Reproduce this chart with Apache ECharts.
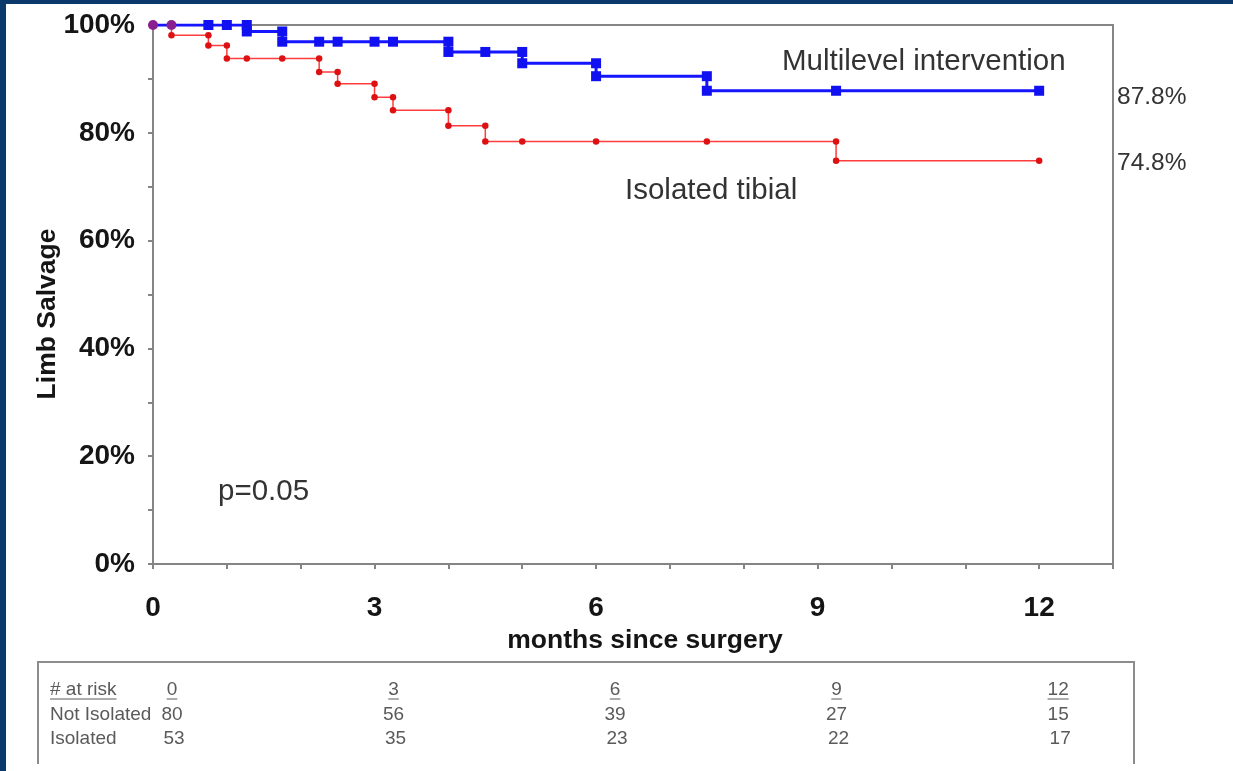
<!DOCTYPE html>
<html>
<head>
<meta charset="utf-8">
<script src="https://cdn.jsdelivr.net/npm/echarts@6/dist/echarts.min.js"></script>
<style>
html,body{margin:0;padding:0;background:#0c396c;width:1233px;height:771px;overflow:hidden;}
#white{position:absolute;left:6px;top:4px;width:1227px;height:767px;background:#ffffff;}
#chart{position:absolute;left:0;top:0;width:1233px;height:771px;}
</style>
</head>
<body>
<div id="white"></div>
<div id="chart"></div>
<script>
// ---- data ----
const multiTimes = [0, 0.25, 0.75, 1.0, 1.27, 1.75, 2.25, 2.5, 3.0, 3.25, 4.0, 4.5, 5.0, 6.0, 7.5, 9.25, 12];
const multiSurv  = [100, 100, 100, 100, 98.8, 96.9, 96.9, 96.9, 96.9, 96.9, 95.0, 95.0, 92.9, 90.5, 87.8, 87.8, 87.8];
const isoTimes   = [0, 0.25, 0.75, 1.0, 1.27, 1.75, 2.25, 2.5, 3.0, 3.25, 4.0, 4.5, 5.0, 6.0, 7.5, 9.25, 12];
const isoSurv    = [100, 98.1, 96.2, 93.8, 93.8, 93.8, 91.3, 89.1, 86.6, 84.2, 81.3, 78.4, 78.4, 78.4, 78.4, 74.8, 74.8];
const seriesNames = ['Multilevel intervention', 'Isolated tibial'];
const riskMonths = [0, 3, 6, 9, 12];
const notIsolatedRisk = [80, 56, 39, 27, 15];
const isolatedRisk = [53, 35, 23, 22, 17];
const riskRowLabels = ['# at risk', 'Not Isolated', 'Isolated'];
const pValueText = 'p=0.05';
const xTickLabels = [0, 3, 6, 9, 12];
const yTickLabels = [0, 20, 40, 60, 80, 100];

const FONT = '"Liberation Sans", Arial, sans-serif';

function buildSteps(times, vals) {
  const out = [];
  let prev = null;
  for (let i = 0; i < times.length; i++) {
    if (prev !== null && vals[i] !== prev) out.push([times[i], prev]);
    out.push([times[i], vals[i]]);
    prev = vals[i];
  }
  return out;
}
const isoSteps = buildSteps(isoTimes, isoSurv);
const multiSteps = buildSteps(multiTimes, multiSurv);
const isoKey = new Set(isoSteps.map(p => p[0] + '_' + p[1]));
const multiData = multiSteps.map(p => {
  if (isoKey.has(p[0] + '_' + p[1])) {
    return { value: p, symbol: 'circle', symbolSize: 10, itemStyle: { color: '#8a1f8e' } };
  }
  return { value: p };
});

const chart = echarts.init(document.getElementById('chart'), null, { renderer: 'canvas' });
const axisGrey = '#858585';
chart.setOption({
  animation: false,
  backgroundColor: 'transparent',
  grid: { left: 153, right: 120, top: 25, bottom: 207, show: true, borderColor: axisGrey, borderWidth: 2, backgroundColor: 'transparent' },
  xAxis: {
    type: 'value', min: 0, max: 13, interval: 1,
    axisLine: { lineStyle: { color: axisGrey, width: 2 } },
    axisTick: { length: 5, lineStyle: { color: axisGrey, width: 2 } },
    splitLine: { show: false },
    axisLabel: {
      formatter: v => (xTickLabels.indexOf(v) >= 0 ? String(v) : ''),
      fontFamily: FONT, fontWeight: 'bold', fontSize: 28, color: '#151515', margin: 30
    },
    name: 'months since surgery', nameLocation: 'middle', nameGap: 60,
    nameTextStyle: { fontFamily: FONT, fontWeight: 'bold', fontSize: 26.5, color: '#151515', padding: [0, 0, 0, 24] }
  },
  yAxis: {
    type: 'value', min: 0, max: 100, interval: 10,
    axisLine: { lineStyle: { color: axisGrey, width: 2 } },
    axisTick: { length: 5, lineStyle: { color: axisGrey, width: 2 } },
    splitLine: { show: false },
    axisLabel: {
      formatter: v => (yTickLabels.indexOf(v) >= 0 ? v + '%' : ''),
      fontFamily: FONT, fontWeight: 'bold', fontSize: 28, color: '#151515', margin: 18
    }
  },
  series: [
    {
      name: seriesNames[1], type: 'line', data: isoSteps, showAllSymbol: true,
      symbol: 'circle', symbolSize: 6.5,
      lineStyle: { color: '#ff3c3c', width: 1.5 },
      itemStyle: { color: '#dd1111' }, z: 2
    },
    {
      name: seriesNames[0], type: 'line', data: multiData, showAllSymbol: true,
      symbol: 'rect', symbolSize: 10,
      lineStyle: { color: '#1515ff', width: 3 },
      itemStyle: { color: '#1010f0' }, z: 3
    }
  ]
});

// ---- annotations & at-risk table ----
const ctx = document.createElement('canvas').getContext('2d');
function textW(t, size, weight) { ctx.font = (weight || 'normal') + ' ' + size + 'px ' + FONT; return ctx.measureText(t).width; }
const px = (x, y) => chart.convertToPixel({ gridIndex: 0 }, [x, y]);

const g = [];
const textColor = '#333333';
// series labels
g.push({ type: 'text', x: 782, y: 62, style: { text: seriesNames[0], font: 'normal 29.5px ' + FONT, fill: textColor, align: 'left', verticalAlign: 'middle' } });
g.push({ type: 'text', x: 625, y: 191, style: { text: seriesNames[1], font: 'normal 29.5px ' + FONT, fill: textColor, align: 'left', verticalAlign: 'middle' } });
// final percentages
const endM = px(13, multiSurv[multiSurv.length - 1]);
const endI = px(13, isoSurv[isoSurv.length - 1]);
g.push({ type: 'text', x: endM[0] + 4, y: endM[1] + 6, style: { text: multiSurv[multiSurv.length - 1].toFixed(1) + '%', font: 'normal 24.5px ' + FONT, fill: textColor, align: 'left', verticalAlign: 'middle' } });
g.push({ type: 'text', x: endI[0] + 4, y: endI[1] + 2, style: { text: isoSurv[isoSurv.length - 1].toFixed(1) + '%', font: 'normal 24.5px ' + FONT, fill: textColor, align: 'left', verticalAlign: 'middle' } });
// p value
g.push({ type: 'text', x: 218, y: 492, style: { text: pValueText, font: 'normal 29.5px ' + FONT, fill: textColor, align: 'left', verticalAlign: 'middle' } });
// y axis name
g.push({ type: 'text', x: 48, y: 314, rotation: Math.PI / 2, style: { text: 'Limb Salvage', font: 'bold 26.5px ' + FONT, fill: '#151515', align: 'center', verticalAlign: 'middle' } });

// table box
const boxL = 38, boxR = 1134, boxT = 662, boxB = 764;
const boxStyle = { stroke: '#8c8c8c', lineWidth: 2 };
g.push({ type: 'polyline', shape: { points: [[boxL, boxB], [boxL, boxT], [boxR, boxT], [boxR, boxB]] }, style: boxStyle });
const rowY = [690, 715, 739];
const tColor = '#5a5a5a';
const tSize = 19;
riskRowLabels.forEach((lab, i) => {
  g.push({ type: 'text', x: 50, y: rowY[i], style: { text: lab, font: 'normal ' + tSize + 'px ' + FONT, fill: tColor, align: 'left', verticalAlign: 'middle' } });
});
g.push({ type: 'line', shape: { x1: 50, y1: rowY[0] + 9, x2: 50 + textW(riskRowLabels[0], tSize), y2: rowY[0] + 9 }, style: { stroke: tColor, lineWidth: 1 } });
riskMonths.forEach((m, i) => {
  const cx = px(m, 0)[0] + 19;
  const head = String(m);
  g.push({ type: 'text', x: cx, y: rowY[0], style: { text: head, font: 'normal ' + tSize + 'px ' + FONT, fill: tColor, align: 'center', verticalAlign: 'middle' } });
  const w = textW(head, tSize);
  g.push({ type: 'line', shape: { x1: cx - w / 2, y1: rowY[0] + 9, x2: cx + w / 2, y2: rowY[0] + 9 }, style: { stroke: tColor, lineWidth: 1 } });
  g.push({ type: 'text', x: cx, y: rowY[1], style: { text: String(notIsolatedRisk[i]), font: 'normal ' + tSize + 'px ' + FONT, fill: tColor, align: 'center', verticalAlign: 'middle' } });
  g.push({ type: 'text', x: cx + 2, y: rowY[2], style: { text: String(isolatedRisk[i]), font: 'normal ' + tSize + 'px ' + FONT, fill: tColor, align: 'center', verticalAlign: 'middle' } });
});

chart.setOption({ graphic: g });
</script>
</body>
</html>
